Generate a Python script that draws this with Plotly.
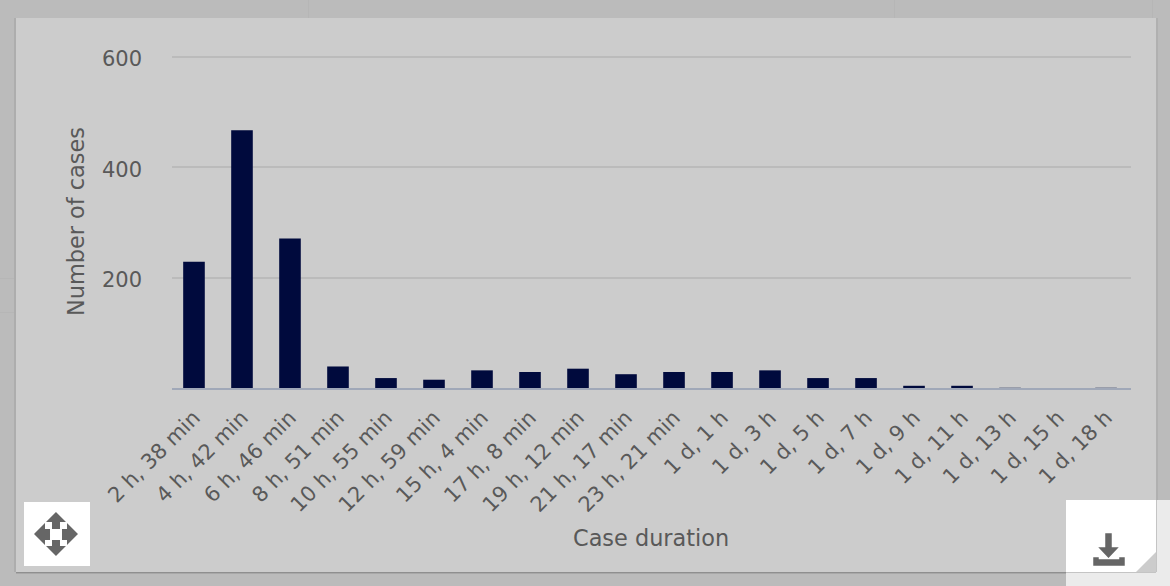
import plotly.graph_objects as go

categories = ["2 h, 38 min", "4 h, 42 min", "6 h, 46 min", "8 h, 51 min", "10 h, 55 min",
              "12 h, 59 min", "15 h, 4 min", "17 h, 8 min", "19 h, 12 min", "21 h, 17 min",
              "23 h, 21 min", "1 d, 1 h", "1 d, 3 h", "1 d, 5 h", "1 d, 7 h", "1 d, 9 h",
              "1 d, 11 h", "1 d, 13 h", "1 d, 15 h", "1 d, 18 h"]
cases = [229, 467, 271, 39, 18, 15, 32, 29, 35, 25, 29, 29, 32, 18, 18, 4, 4, 1, 0, 1]
bar_colors = ["#000a3d"] * 17 + ["#9a9eaa", "#9a9eaa", "#9a9eaa"]

W, H = 1170, 586
TEXT = "#595959"
FONT = "DejaVu Sans"


def X(px):
    return px / W


def Y(px):
    return 1 - px / H


def rect(x0, y0, x1, y1, color):
    return dict(type="rect", xref="paper", yref="paper", x0=X(x0), x1=X(x1), y0=Y(y0), y1=Y(y1),
                fillcolor=color, line=dict(width=0), layer="below")


def poly(points, color, lw=0):
    d = "M" + " L".join(f"{X(a):.5f},{Y(b):.5f}" for a, b in points) + " Z"
    return dict(type="path", xref="paper", yref="paper", path=d, fillcolor=color,
                line=dict(width=lw, color=color), layer="above")


ICON = "#666666"
FAINT = "#b6b6b6"
shapes = [
    rect(308, 0, 309, 18, FAINT),
    rect(894, 0, 895, 18, FAINT),
    rect(1152, 0, 1153, 18, FAINT),
    rect(0, 278, 16, 279, FAINT),
    rect(0, 312, 16, 313, FAINT),
    rect(16, 572, 1156, 573, "#8f8f8f"),
    rect(16, 573, 1156, 574, "#a8a8a8"),
    rect(1156, 18, 1158, 500, "#b0b0b0"),
    rect(1156, 500, 1170, 586, "#ebebeb"),
    rect(1066, 572, 1156, 586, "#ebebeb"),
    rect(1156, 500, 1157, 572, "#c4c4c4"),
    rect(1066, 572, 1156, 573, "#c4c4c4"),
    rect(14, 18, 16, 572, "#adadad"),
    rect(16, 18, 1156, 572, "#cccccc"),
    rect(24, 502, 90, 566, "#ffffff"),
    rect(1066, 500, 1156, 572, "#ffffff"),
    poly([(1156, 552), (1156, 572), (1136, 572)], "#cccccc"),
    # move icon
    poly([(56, 512), (66, 522), (60, 522), (60, 529), (52, 529), (52, 522), (46, 522)], ICON),
    poly([(56, 556), (66, 546), (60, 546), (60, 540), (52, 540), (52, 546), (46, 546)], ICON),
    poly([(34, 534), (45, 523), (45, 529), (50, 529), (50, 540), (45, 540), (45, 545)], ICON),
    poly([(78, 534), (67, 523), (67, 529), (62, 529), (62, 540), (67, 540), (67, 545)], ICON),
    # download icon
    poly([(1106, 534), (1111, 534), (1111, 548), (1117, 548), (1108.5, 557), (1100, 548), (1106, 548)], ICON, 1.5),
    poly([(1094, 558), (1098, 558), (1098, 560), (1120, 560), (1120, 558), (1124, 558), (1124, 565), (1094, 565)], ICON, 1.5),
]

fig = go.Figure(go.Bar(x=categories, y=cases, marker=dict(color=bar_colors, line=dict(width=0)), width=0.45))
fig.update_layout(
    width=W, height=H, margin=dict(l=0, r=0, t=0, b=0), autosize=False,
    paper_bgcolor="#bbbbbb", plot_bgcolor="rgba(0,0,0,0)", showlegend=False,
    font=dict(family=FONT, color=TEXT, size=18), shapes=shapes,
    annotations=[
        dict(text="Case duration", xref="paper", yref="paper", x=X(651), y=Y(538), showarrow=False,
             font=dict(family=FONT, size=22.4, color=TEXT), xanchor="center", yanchor="middle"),
        dict(text="Number of cases", xref="paper", yref="paper", x=X(76), y=Y(222), showarrow=False,
             textangle=-90, font=dict(family=FONT, size=22.4, color=TEXT), xanchor="center", yanchor="middle"),
    ],
)
fig.update_xaxes(domain=[X(172), X(1131)], type="category", range=[-0.458, 19.52], tickangle=-45, showgrid=False,
                 showline=True, linecolor="#a0a8b8", linewidth=2, ticks="", automargin=False,
                 tickfont=dict(size=21, color=TEXT), ticklabelstandoff=7, tickvals=categories, ticktext=categories)
fig.update_yaxes(domain=[Y(388), Y(54)], range=[0, 605.4], tickvals=[200, 400, 600], showline=False,
                 gridcolor="#bbbbbb", gridwidth=2, zeroline=False, automargin=False,
                 tickfont=dict(size=21, color=TEXT), ticklabelstandoff=29, ticklabelshift=2, ticks="")
fig.write_html("out.html", post_script="document.body.style.margin='0';", config=dict(displayModeBar=False))
